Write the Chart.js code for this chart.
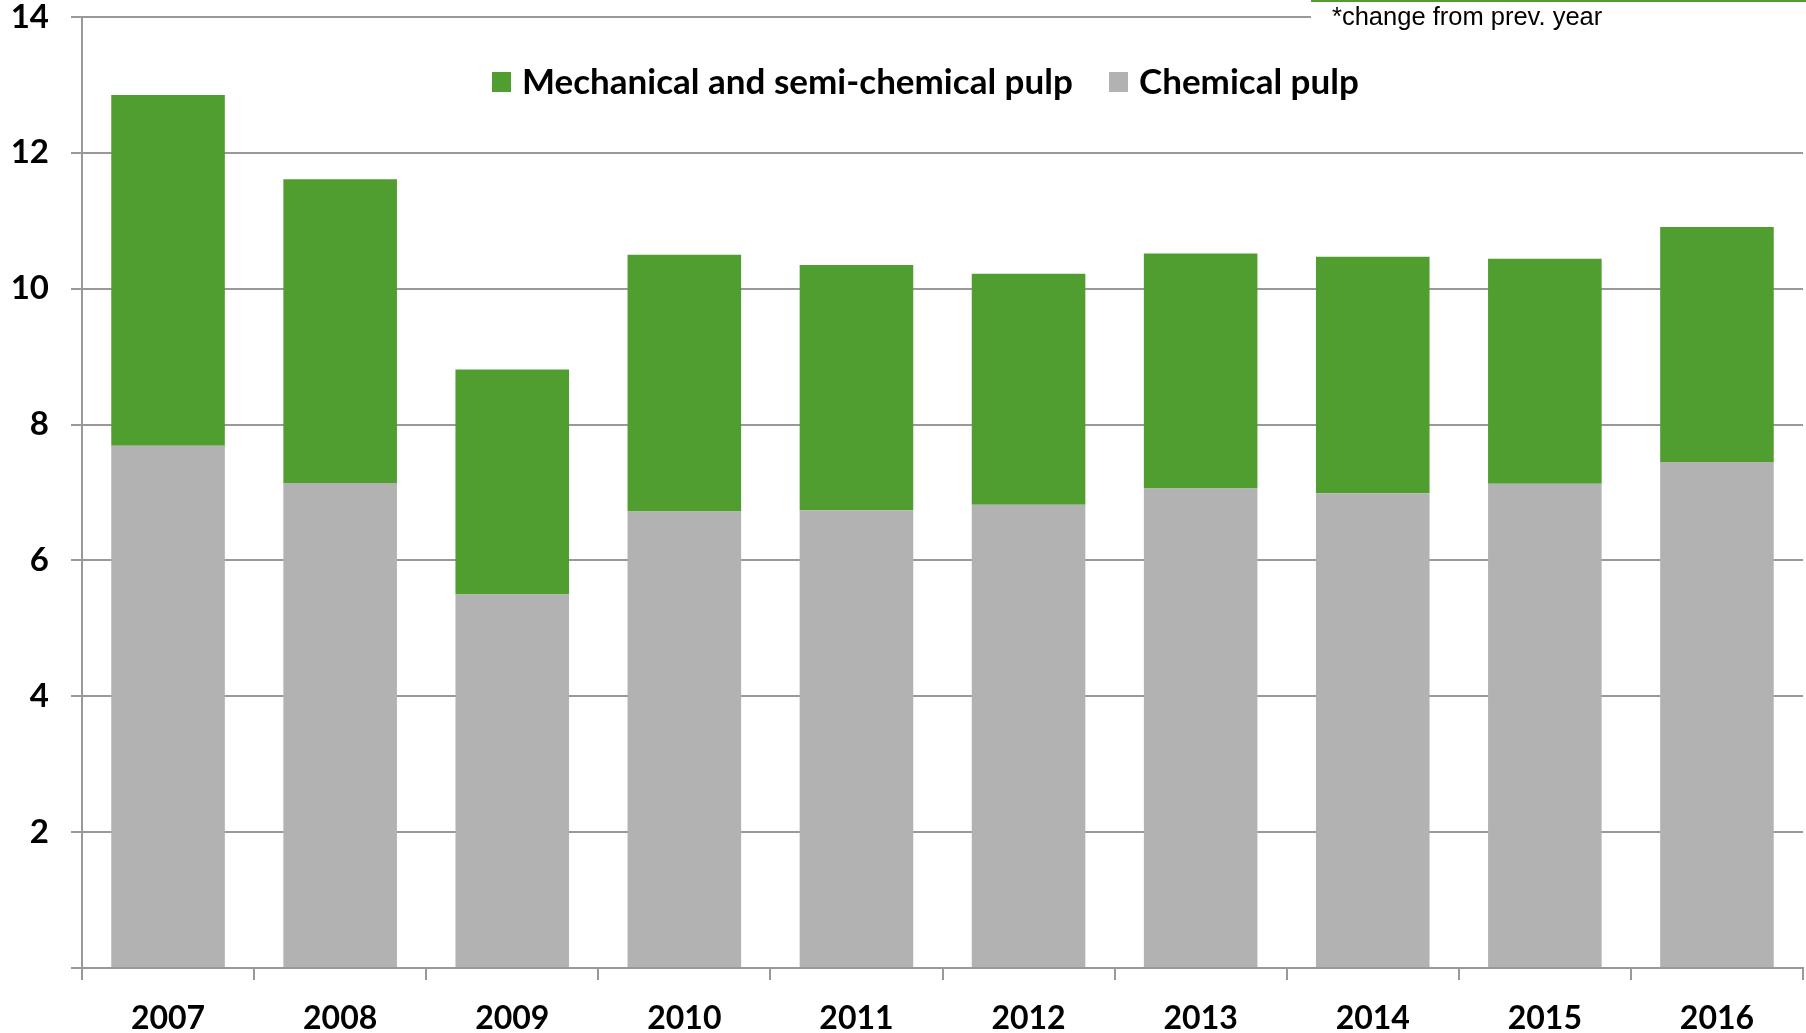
<!DOCTYPE html>
<html>
<head>
    <title>Pulp production</title>
    <script src="https://cdn.jsdelivr.net/npm/chart.js"></script>
    <style>
        body { margin: 0; background: #fff; }
        canvas { display: block; }
    </style>
</head>
<body>
    <canvas id="pulpChart" width="1806" height="1033"></canvas>

    <script>
        // Data
        const years = ['2007', '2008', '2009', '2010', '2011', '2012', '2013', '2014', '2015', '2016'];
        const chemical = [7.69, 7.14, 5.50, 6.72, 6.74, 6.82, 7.06, 6.99, 7.13, 7.45];
        const mechanical = [5.16, 4.47, 3.31, 3.78, 3.61, 3.40, 3.46, 3.48, 3.31, 3.46];
        const yTicks = [0, 2, 4, 6, 8, 10, 12, 14];
        const noteText = '*change from prev. year';

        const green = '#509e2f';
        const grey = '#b2b2b2';
        const axisGrey = '#999999';

        // white note box in the top right corner + legend in the plot
        const decorations = {
            id: 'decorations',
            afterDraw(chart) {
                const c = chart.ctx;
                c.save();
                c.fillStyle = '#fff';
                c.fillRect(1311, 2, 495, 30);
                c.fillStyle = green;
                c.fillRect(1311, 0, 495, 2);
                c.fillStyle = '#000';
                c.font = '25.5px "Liberation Sans", Arial, sans-serif';
                c.textBaseline = 'middle';
                c.fillText(noteText, 1332, 18);

                // legend: mechanical first, then chemical
                c.font = 'bold 35px Lato, sans-serif';
                const items = [chart.data.datasets[1], chart.data.datasets[0]];
                const xs = [492, 1109];
                items.forEach((ds, i) => {
                    c.fillStyle = ds.backgroundColor;
                    c.fillRect(xs[i], 72, 19, 20);
                    c.fillStyle = '#000';
                    c.fillText(ds.label, xs[i] + 30, 83);
                });
                c.restore();
            }
        };

        const ctx = document.getElementById('pulpChart').getContext('2d');
        const chart = new Chart(ctx, {
            type: 'bar',
            data: {
                labels: years,
                datasets: [
                    {
                        label: 'Chemical pulp',
                        data: chemical,
                        backgroundColor: grey,
                        barPercentage: 0.66,
                        categoryPercentage: 1
                    },
                    {
                        label: 'Mechanical and semi-chemical pulp',
                        data: mechanical,
                        backgroundColor: green,
                        barPercentage: 0.66,
                        categoryPercentage: 1
                    }
                ]
            },
            options: {
                responsive: false,
                animation: false,
                layout: { padding: { top: 17, right: 3, left: 0, bottom: 0 } },
                plugins: {
                    legend: { display: false },
                    tooltip: { enabled: false }
                },
                scales: {
                    x: {
                        stacked: true,
                        afterFit: s => { s.height = 65; s.paddingLeft = 0; s.paddingRight = 0; },
                        grid: {
                            display: true,
                            drawOnChartArea: false,
                            drawTicks: true,
                            tickLength: 12,
                            offset: true,
                            color: axisGrey,
                            lineWidth: 2
                        },
                        border: { display: true, color: axisGrey, width: 2 },
                        ticks: {
                            color: '#000',
                            padding: 19,
                            maxRotation: 0,
                            font: { family: 'Lato', size: 32, weight: 'bold' }
                        }
                    },
                    y: {
                        stacked: true,
                        min: 0,
                        max: 14,
                        afterFit: s => { s.width = 82; s.paddingTop = 0; s.paddingBottom = 0; },
                        afterBuildTicks: s => { s.ticks = yTicks.map(v => ({ value: v })); },
                        grid: {
                            color: axisGrey,
                            lineWidth: 2,
                            drawTicks: true,
                            tickLength: 11
                        },
                        border: { display: true, color: axisGrey, width: 2 },
                        ticks: {
                            color: '#000',
                            padding: 22,
                            font: { family: 'Lato', size: 33, weight: 'bold' },
                            callback: v => (v === 0 ? '' : v)
                        }
                    }
                }
            },
            plugins: [decorations]
        });
    </script>
</body>
</html>
